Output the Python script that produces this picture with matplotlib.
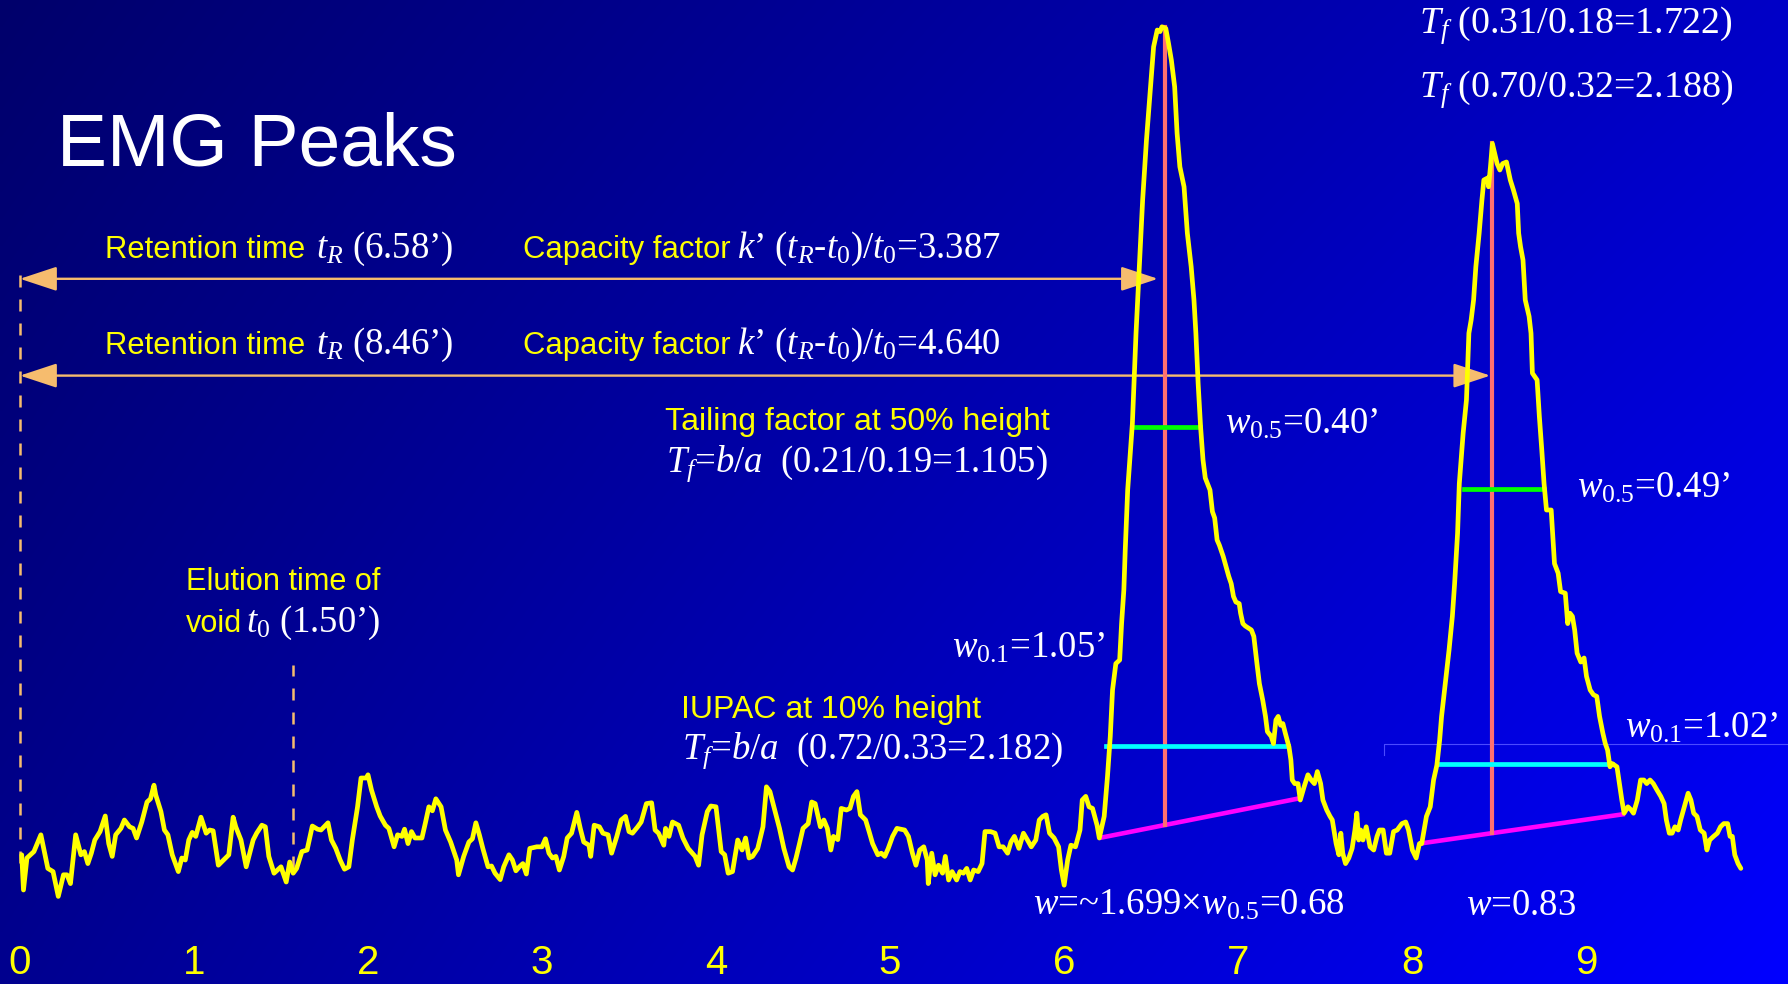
import matplotlib
matplotlib.use("Agg")
import numpy as np
import matplotlib.pyplot as plt

plt.rcParams['mathtext.fontset'] = 'custom'
plt.rcParams['mathtext.rm'] = 'Liberation Serif'
plt.rcParams['mathtext.it'] = 'Liberation Serif:italic'
plt.rcParams['mathtext.bf'] = 'Liberation Serif:bold'

# ---------------- data (time in minutes, signal in arbitrary units) ----------------
trace_time = [
    0.01, 0.02, 0.04, 0.08, 0.12, 0.16, 0.19, 0.22, 0.25, 0.27, 0.29, 0.32, 0.35, 0.37, 0.39, 0.41, 0.43,
    0.46, 0.49, 0.51, 0.53, 0.55, 0.58, 0.60, 0.63, 0.65, 0.67, 0.70, 0.73, 0.75, 0.77, 0.78, 0.81, 0.83,
    0.85, 0.875, 0.91, 0.93, 0.95, 0.97, 0.99, 1.01, 1.04, 1.07, 1.09, 1.11, 1.14, 1.17, 1.20, 1.225, 1.24,
    1.27, 1.30, 1.34, 1.36, 1.39, 1.41, 1.43, 1.46, 1.48, 1.50, 1.53, 1.55, 1.57, 1.59, 1.62, 1.65, 1.68,
    1.71, 1.73, 1.77, 1.79, 1.815, 1.84, 1.865, 1.89, 1.91, 1.94, 1.96, 1.99, 2.00, 2.02, 2.05, 2.07, 2.10,
    2.12, 2.15, 2.17, 2.195, 2.21, 2.23, 2.25, 2.27, 2.31, 2.33, 2.35, 2.37, 2.39, 2.42, 2.445, 2.475, 2.51,
    2.52, 2.55, 2.58, 2.60, 2.62, 2.64, 2.66, 2.69, 2.71, 2.73, 2.76, 2.78, 2.81, 2.83, 2.85, 2.87, 2.89,
    2.91, 2.93, 2.97, 3.00, 3.02, 3.04, 3.06, 3.08, 3.10, 3.125, 3.145, 3.17, 3.20, 3.22, 3.24, 3.27, 3.28,
    3.30, 3.33, 3.35, 3.38, 3.40, 3.43, 3.455, 3.48, 3.50, 3.52, 3.55, 3.57, 3.60, 3.63, 3.65, 3.67, 3.70,
    3.71, 3.73, 3.75, 3.785, 3.81, 3.84, 3.88, 3.90, 3.92, 3.95, 3.97, 4.00, 4.03, 4.05, 4.07, 4.095, 4.125,
    4.15, 4.17, 4.19, 4.21, 4.24, 4.27, 4.29, 4.31, 4.34, 4.365, 4.39, 4.42, 4.44, 4.46, 4.48, 4.50, 4.53,
    4.55, 4.57, 4.60, 4.62, 4.64, 4.66, 4.675, 4.70, 4.72, 4.75, 4.77, 4.79, 4.81, 4.83, 4.86, 4.88, 4.90,
    4.93, 4.95, 4.97, 4.99, 5.015, 5.04,
    5.084, 5.106, 5.129, 5.149, 5.171, 5.194, 5.214, 5.22, 5.24, 5.259, 5.279, 5.302, 5.318, 5.337, 5.357,
    5.383, 5.402, 5.422, 5.441, 5.461, 5.481, 5.507, 5.529, 5.546, 5.578, 5.604, 5.627, 5.65, 5.676, 5.695,
    5.715, 5.741, 5.767, 5.79, 5.812, 5.838, 5.858, 5.878, 5.897, 5.917, 5.943, 5.969, 5.985, 6.001, 6.021,
    6.04, 6.066, 6.092, 6.105, 6.125, 6.144, 6.164, 6.19, 6.203,
    6.231, 6.250, 6.266, 6.279, 6.298, 6.320, 6.331, 6.344, 6.352, 6.366, 6.393, 6.414, 6.433, 6.452, 6.474,
    6.496, 6.515, 6.536, 6.552, 6.563, 6.585, 6.601, 6.617, 6.636, 6.650, 6.666, 6.690, 6.709, 6.731, 6.747,
    6.758, 6.771, 6.785, 6.799, 6.812, 6.839, 6.853, 6.866, 6.880, 6.893, 6.915, 6.947, 6.961, 6.974, 6.988,
    7.007, 7.015, 7.028, 7.042, 7.077, 7.091, 7.109, 7.123, 7.142, 7.158, 7.169, 7.191, 7.204, 7.218, 7.231,
    7.245, 7.258, 7.272, 7.293, 7.304, 7.312, 7.326, 7.345, 7.358, 7.380, 7.402, 7.421, 7.439, 7.456, 7.475,
    7.488, 7.510, 7.529, 7.542, 7.564, 7.580, 7.591, 7.602, 7.618, 7.637, 7.656, 7.672, 7.683, 7.694, 7.705,
    7.718, 7.737, 7.759, 7.780, 7.799, 7.813, 7.834, 7.853, 7.872, 7.894, 7.915, 7.942, 7.964, 7.980, 8.002,
    8.024, 8.043, 8.056,
    8.083, 8.105, 8.124, 8.143, 8.159, 8.170, 8.191, 8.213, 8.232, 8.245, 8.262, 8.272, 8.294, 8.313, 8.327,
    8.340, 8.354, 8.367, 8.386, 8.402, 8.413, 8.435, 8.440, 8.451, 8.462, 8.475, 8.489, 8.505, 8.521, 8.543,
    8.565, 8.583, 8.605, 8.613, 8.624, 8.638, 8.651, 8.673, 8.684, 8.692, 8.719, 8.732, 8.746, 8.759, 8.773,
    8.800, 8.808, 8.819, 8.840, 8.854, 8.881, 8.895, 8.908, 8.922, 8.935, 8.949, 8.970, 8.989, 9.003, 9.024,
    9.043, 9.062, 9.078, 9.097, 9.111, 9.124, 9.138, 9.151, 9.178, 9.192, 9.206, 9.219, 9.241, 9.260, 9.273,
    9.295, 9.314, 9.333, 9.349, 9.368, 9.387, 9.408, 9.430, 9.449, 9.462, 9.479, 9.495, 9.511, 9.530, 9.544,
    9.565, 9.587, 9.603, 9.619, 9.638, 9.657, 9.679, 9.695, 9.711, 9.733, 9.755, 9.773, 9.792, 9.814, 9.828,
    9.841, 9.855, 9.874, 9.890,
]
trace_signal = [
    -3.1, -7.5, -3.5, -2.7, -0.6, -4.8, -5.2, -8.3, -5.6, -5.6, -6.7, -0.6, -3.1, -2.7, -4.2, -2.9, -1.25,
    -0.2, 1.75, -1.7, -3.3, -0.6, 0.2, 1.25, 0.4, 0.2, -1.0, 1.0, 3.5, 3.9, 5.6, 4.4, 2.3, 0.0,
    -0.6, -3.1, -5.2, -3.5, -3.75, -1.25, -0.3, -0.8, 1.6, -0.4, 0.0, -0.1, -4.4, -3.75, -3.1, 1.6, 0.4,
    -1.25, -4.6, -1.25, -0.4, 0.6, 0.4, -3.3, -5.4, -5.0, -4.6, -6.5, -4.0, -5.4, -4.8, -2.7, -2.5, 0.5,
    0.1, 0.0, 0.9, -1.25, -2.3, -3.75, -4.9, -4.6, -1.25, 2.9, 6.5, 6.5, 6.9, 5.0, 2.9, 1.75, 0.6,
    0.2, -2.1, -0.6, -0.8, 0.1, -1.7, -0.2, -1.0, -1.0, 0.9, 2.9, 2.4, 3.9, 2.9, 0.0, -1.5, -3.75,
    -5.6, -3.3, -1.5, -1.1, 0.9, -0.6, -2.3, -4.6, -4.5, -5.4, -6.2, -4.6, -3.1, -3.75, -5.1, -4.6, -4.2,
    -5.5, -2.3, -2.1, -2.1, -1.1, -2.9, -3.5, -3.3, -5.0, -3.3, -1.0, -0.4, 2.2, 0.2, -1.5, -1.9, -3.3,
    0.6, 0.4, -0.4, -0.6, -2.9, -0.8, 1.25, 1.7, -0.2, -0.4, 0.4, 1.0, 3.3, 3.4, 0.0, -0.4, -1.9,
    0.2, -0.8, 1.0, 0.6, -1.0, -2.3, -3.3, -4.4, -0.6, 2.3, 3.0, 2.9, -2.7, -3.1, -5.4, -5.2, -1.25,
    -2.5, -1.0, -3.5, -3.3, -2.3, 0.4, 5.4, 4.8, 2.3, 0.2, -2.3, -4.6, -5.0, -3.5, -1.7, 0.2, 0.8,
    3.5, 3.3, 0.4, 1.25, 0.2, -2.5, -0.8, -1.2, 2.7, 2.5, 2.7, 4.2, 4.8, 1.9, 1.25, -0.2, -1.7,
    -3.1, -2.9, -3.3, -2.3, -0.8, 0.2,
    0.0, -0.8, -2.9, -4.4, -2.5, -2.1, -3.75, -6.7, -2.9, -5.6, -4.4, -5.4, -3.3, -6.25, -5.2,
    -6.25, -5.2, -5.4, -4.8, -6.25, -5.0, -5.2, -4.2, -0.2, -0.2, -0.4, -2.1, -2.1, -2.9, -1.5,
    -0.8, -2.3, -0.4, -1.25, -2.1, -1.25, 1.25, 1.7, 1.9, -0.4, -1.0, -2.1, -5.0, -6.9, -3.75,
    -1.9, -2.1, 0.0, 3.75, 4.2, 2.9, 2.7, 0.6, -1.0,
    1.7, 6.7, 11.7, 17.5, 20.8, 21.25, 25.8, 30.0, 35.0, 42.5, 50.8, 62.1, 70.4, 78.75, 86.25,
    92.5, 97.9, 100.0, 99.8, 100.4, 100.2, 98.3, 96.25, 92.9, 87.1, 82.9, 80.4, 74.6, 70.4, 66.25,
    62.1, 55.8, 50.4, 46.25, 44.0, 42.5, 39.8, 39.0, 36.25, 35.6, 34.2, 31.7, 30.8, 29.2, 28.5,
    28.3, 27.1, 25.8, 25.5, 25.0, 24.2, 20.8, 18.3, 16.25, 14.2, 12.3, 11.7, 10.8, 13.75, 14.2,
    13.1, 13.3, 12.1, 10.4, 8.75, 6.25, 5.8, 5.8, 3.75, 5.4, 6.9, 6.25, 5.8, 7.3, 5.8,
    3.75, 2.5, 1.7, 1.25, -1.7, -3.1, -0.4, -2.9, -4.2, -3.5, -2.3, 0.0, 2.1, -1.25, 0.0,
    -1.25, 0.4, -2.1, -2.5, -0.8, 0.0, 0.0, -2.9, -2.9, -0.2, 0.0, 0.8, 1.0, 0.0, -2.5,
    -3.5, -1.7, -1.7,
    1.7, 2.9, 6.25, 8.1, 11.25, 14.2, 18.3, 22.5, 26.7, 30.8, 37.1, 43.3, 49.6, 53.75, 62.1,
    63.75, 66.25, 70.4, 74.6, 78.75, 81.25, 81.5, 80.4, 82.9, 85.8, 84.6, 83.3, 82.5, 83.3, 83.5,
    81.25, 80.0, 78.3, 74.6, 72.9, 71.25, 66.25, 64.2, 62.1, 57.1, 56.25, 51.7, 47.5, 43.3, 40.0,
    40.0, 37.1, 33.3, 32.1, 29.8, 29.6, 25.8, 27.1, 26.7, 25.0, 22.1, 21.0, 21.5, 19.2, 17.5,
    16.9, 16.7, 14.2, 12.1, 10.8, 10.0, 7.9, 8.3, 7.9, 5.8, 3.75, 2.1, 2.9, 2.5, 2.1,
    3.75, 6.25, 6.25, 5.8, 6.25, 5.8, 5.0, 4.2, 3.3, 1.25, -0.4, -0.4, 0.4, 0.0, 1.25,
    2.9, 4.6, 3.75, 2.1, 1.7, 0.0, -0.4, -2.5, -1.25, -0.8, -0.4, 0.4, 0.8, 0.8, -0.8,
    -0.8, -3.1, -4.2, -4.8,
]

retention_times = [6.58, 8.46]
peak_tops = [100.4, 85.9]
baseline_at_peak = [0.6, -0.4]
baseline_t_start = [6.203, 8.056]
baseline_t_end = [7.353, 9.224]
baseline_s_start = [-1.0, -1.66]
baseline_s_end = [3.96, 2.0]
half_level = [50.4, 42.6]
half_left = [6.406, 8.299]
half_right = [6.779, 8.759]
tenth_level = [10.5, 8.25]
tenth_left = [6.244, 8.149]
tenth_right = [7.285, 9.149]
arrow_level = [68.9, 56.8]
arrow_end = [6.54, 8.45]
void_marker_time = 1.57
tick_values = list(range(10))
tick_labels = [str(v) for v in tick_values]

# ---------------- figure ----------------
W, H = 1788, 984
fig = plt.figure(figsize=(W / 100, H / 100), dpi=100)

bg = fig.add_axes([0, 0, 1, 1], zorder=0)
u = np.linspace(0, 1, 400)[None, :]
v = np.linspace(0, 1, 220)[:, None]
TL, TR, BL, BR = 0.42, 0.78, 0.56, 1.0
b = TL * (1 - u) * (1 - v) + TR * u * (1 - v) + BL * (1 - u) * v + BR * u * v
img = np.zeros((220, 400, 3))
img[..., 2] = b
bg.imshow(img, extent=[0, 1, 0, 1], aspect='auto', origin='upper', interpolation='bilinear')
bg.set_xlim(0, 1); bg.set_ylim(0, 1)
bg.axis('off')

ax = fig.add_axes([0, 39 / H, 1, 945 / H], zorder=1)
ax.patch.set_alpha(0)
ax.set_xlim(-0.1149, 10.161)
ax.set_ylim(-14.375, 103.75)
for sp in ax.spines.values():
    sp.set_visible(False)
ax.set_yticks([])
ax.set_xticks(tick_values)
ax.set_xticklabels(tick_labels, color='#FFFF00', fontsize=29, family='Liberation Sans')
ax.tick_params(axis='x', length=0, pad=-0.5)

ORANGE = '#F6BC6E'
# dashed markers
ax.plot([0, 0], [-4.1, 70.8], color=ORANGE, lw=1.8, ls=(0, (4.8, 4.8)), zorder=2)
ax.plot([void_marker_time, void_marker_time], [-4.75, 20.6], color=ORANGE, lw=1.8,
        ls=(0, (4.8, 4.8)), zorder=2)

# faint artefact line
ax.plot([7.839, 7.839, 10.161], [9.4, 10.75, 10.75], color='#4a4aff', lw=0.8, zorder=2)

# arrows
for lvl, end in zip(arrow_level, arrow_end):
    ax.annotate('', xy=(end, lvl), xytext=(0, lvl),
                arrowprops=dict(arrowstyle='<|-|>,head_length=1.15,head_width=0.38',
                                color=ORANGE, lw=1.7, shrinkA=0, shrinkB=0,
                                mutation_scale=20), zorder=3)

# peak construction lines
for i in range(2):
    ax.plot([baseline_t_start[i], baseline_t_end[i]], [baseline_s_start[i], baseline_s_end[i]],
            color='#FF00FF', lw=3.3, zorder=3, solid_capstyle='butt')
    ax.plot([retention_times[i]] * 2, [baseline_at_peak[i], peak_tops[i]],
            color='#FF7070', lw=3.0, zorder=3)
    ax.plot([half_left[i], half_right[i]], [half_level[i]] * 2, color='#00FF00', lw=3.4, zorder=3)
    ax.plot([tenth_left[i], tenth_right[i]], [tenth_level[i]] * 2, color='#00FFFF', lw=3.4, zorder=3)

ax.plot(trace_time, trace_signal, color='#FFFF00', lw=3.4, zorder=4,
        solid_joinstyle='round', solid_capstyle='round')

# ---------------- texts ----------------
def sans(x, y, s, size=22.3):
    ax.text(x, y, s, family='Liberation Sans', fontsize=size, color='#FFFF00',
            ha='left', va='baseline', zorder=6)

def serif(x, y, s, size=26.5):
    ax.text(x, y, s, family='Liberation Serif', fontsize=size, color='white',
            ha='left', va='baseline', zorder=6)

ax.text(0.215, 83.1, 'EMG Peaks', family='Liberation Sans', fontsize=54, color='white',
        ha='left', va='baseline')

rows = [(71.5, '6.58', '3.387'), (59.5, '8.46', '4.640')]
for s, tr, kp in rows:
    sans(0.489, s, 'Retention time')
    serif(1.70, s, r'$t_R$ (' + tr + '’)')
    sans(2.889, s, 'Capacity factor')
    serif(4.121, s, r'$k$’ $(t_R$-$t_0)/t_0$=' + kp)

sans(3.705, 50.0, 'Tailing factor at 50% height', size=23)
serif(3.713, 44.8, r'$T_f$=$b/a$  (0.21/0.19=1.105)')
sans(3.799, 14.0, 'IUPAC at 10% height', size=23)
serif(3.807, 8.9, r'$T_f$=$b/a$  (0.72/0.33=2.182)')
serif(5.356, 21.5, r'$w_{0.1}$=1.05’')

sans(0.954, 30.0, 'Elution time of', size=22.1)
sans(0.954, 24.8, 'void', size=22.1)
serif(1.30, 24.8, r'$t_0$ (1.50’)')

serif(6.925, 49.6, r'$w_{0.5}$=0.40’')
serif(8.948, 41.5, r'$w_{0.5}$=0.49’')
serif(9.224, 11.5, r'$w_{0.1}$=1.02’')
serif(8.040, 99.6, r'$T_f$ (0.31/0.18=1.722)', size=27.3)
serif(8.040, 91.6, r'$T_f$ (0.70/0.32=2.188)', size=27.3)
serif(5.822, -10.6, r'$w$=~1.699×$w_{0.5}$=0.68')
serif(8.310, -10.6, r'$w$=0.83')

fig.savefig('out.png', dpi=100)
